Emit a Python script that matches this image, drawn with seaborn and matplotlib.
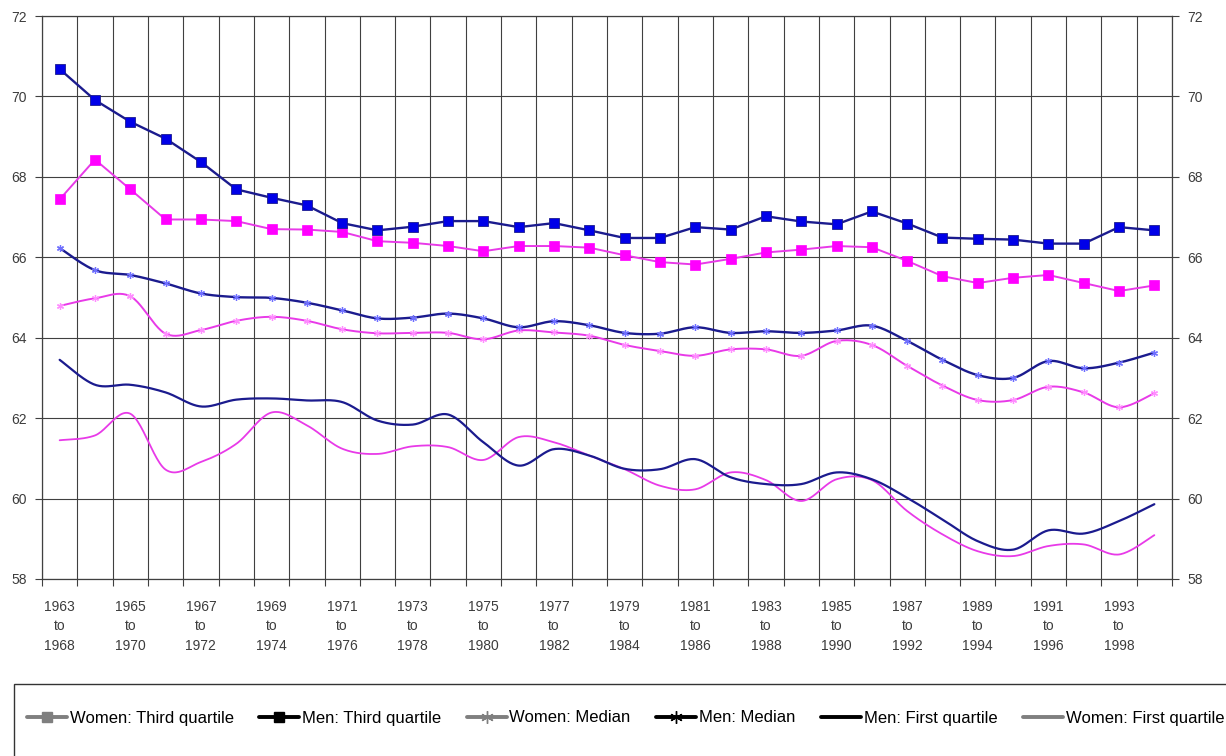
import numpy as np
import matplotlib
matplotlib.use("Agg")
import matplotlib.pyplot as plt
import seaborn as sns
from matplotlib.lines import Line2D
from matplotlib.patches import Rectangle
from matplotlib.ticker import FixedLocator, MultipleLocator

# Six-year windows: first year of each window
start_years = list(range(1963, 1995))
period_labels = [f"{y}\nto\n{y + 5}" for y in start_years]

men_q3 = [70.68, 69.91, 69.37, 68.95, 68.37, 67.69, 67.48, 67.29, 66.85, 66.67,
          66.76, 66.90, 66.90, 66.75, 66.85, 66.67, 66.48, 66.48, 66.75, 66.69,
          67.02, 66.89, 66.82, 67.14, 66.84, 66.49, 66.46, 66.44, 66.34, 66.34,
          66.75, 66.67]
women_q3 = [67.44, 68.43, 67.69, 66.94, 66.94, 66.90, 66.70, 66.69, 66.63, 66.40,
            66.36, 66.28, 66.15, 66.28, 66.28, 66.24, 66.05, 65.88, 65.82, 65.96,
            66.12, 66.19, 66.28, 66.25, 65.91, 65.53, 65.36, 65.49, 65.56, 65.36,
            65.16, 65.30]
men_median = [66.23, 65.68, 65.56, 65.35, 65.10, 65.01, 64.99, 64.87, 64.68, 64.48,
              64.50, 64.60, 64.48, 64.26, 64.41, 64.31, 64.12, 64.10, 64.26, 64.12,
              64.16, 64.12, 64.18, 64.30, 63.92, 63.45, 63.07, 63.00, 63.42, 63.24,
              63.38, 63.63]
women_median = [64.79, 64.98, 65.03, 64.10, 64.19, 64.42, 64.52, 64.42, 64.21, 64.11,
                64.12, 64.12, 63.96, 64.18, 64.13, 64.05, 63.82, 63.67, 63.55, 63.71,
                63.71, 63.55, 63.92, 63.82, 63.30, 62.81, 62.45, 62.45, 62.78, 62.64,
                62.27, 62.62]
men_q1 = [63.45, 62.83, 62.83, 62.64, 62.29, 62.46, 62.49, 62.44, 62.40, 61.94,
          61.84, 62.09, 61.40, 60.82, 61.23, 61.07, 60.74, 60.73, 60.98, 60.53,
          60.36, 60.36, 60.65, 60.48, 60.02, 59.48, 58.94, 58.73, 59.21, 59.13,
          59.44, 59.86]
women_q1 = [61.45, 61.57, 62.11, 60.72, 60.91, 61.36, 62.14, 61.82, 61.24, 61.11,
            61.30, 61.28, 60.96, 61.53, 61.40, 61.07, 60.73, 60.32, 60.23, 60.65,
            60.46, 59.94, 60.48, 60.46, 59.69, 59.11, 58.69, 58.57, 58.82, 58.86,
            58.61, 59.09]

legend_labels = ["Women: Third quartile", "Men: Third quartile", "Women: Median",
                 "Men: Median", "Men: First quartile", "Women: First quartile"]

MEN_LINE = "#1b1b8e"
MEN_MARK = "#0000e8"
MEN_STAR = "#6f6fff"
WOM_LINE = "#e83ae8"
WOM_MARK = "#ff00ff"
WOM_STAR = "#ff8cff"
GRID = "#404040"
TEXT = "#3c3c3c"


def smooth_curve(xs, ys, steps=24):
    """Cubic Bezier smoothing through every point (Catmull-Rom tangents)."""
    xs = np.asarray(xs, float)
    ys = np.asarray(ys, float)
    px = np.concatenate([[xs[0]], xs, [xs[-1]]])
    py = np.concatenate([[ys[0]], ys, [ys[-1]]])
    t = np.linspace(0.0, 1.0, steps, endpoint=False)
    b0, b1, b2, b3 = (1 - t) ** 3, 3 * t * (1 - t) ** 2, 3 * t ** 2 * (1 - t), t ** 3
    out_x, out_y = [], []
    for i in range(1, len(px) - 2):
        x0, x1, x2, x3 = px[i - 1:i + 3]
        y0, y1, y2, y3 = py[i - 1:i + 3]
        cx1, cy1 = x1 + (x2 - x0) / 6, y1 + (y2 - y0) / 6
        cx2, cy2 = x2 - (x3 - x1) / 6, y2 - (y3 - y1) / 6
        out_x.append(b0 * x1 + b1 * cx1 + b2 * cx2 + b3 * x2)
        out_y.append(b0 * y1 + b1 * cy1 + b2 * cy2 + b3 * y2)
    out_x.append([xs[-1]])
    out_y.append([ys[-1]])
    return np.concatenate(out_x), np.concatenate(out_y)


sns.set_theme(style="white")
plt.rcParams["font.family"] = ["Liberation Sans", "DejaVu Sans"]

W, H = 1226, 756
fig = plt.figure(figsize=(W / 100, H / 100), dpi=100)
ax = fig.add_axes([42 / W, 1 - 579 / H, (1172 - 42) / W, (579 - 16) / H])

idx = np.arange(len(start_years))

# Third quartiles: straight segments with square markers
sns.lineplot(x=idx, y=women_q3, ax=ax, color=WOM_LINE, linewidth=1.4,
             marker="s", markersize=7, markerfacecolor=WOM_MARK,
             markeredgecolor=WOM_MARK, markeredgewidth=0.5, zorder=4)
sns.lineplot(x=idx, y=men_q3, ax=ax, color=MEN_LINE, linewidth=1.7,
             marker="s", markersize=7.5, markerfacecolor=MEN_MARK,
             markeredgecolor=MEN_LINE, markeredgewidth=0.6, zorder=5)

# Medians and first quartiles: smoothed curves
for vals, col, lw in [(women_median, WOM_LINE, 1.4), (men_median, MEN_LINE, 1.7),
                      (women_q1, WOM_LINE, 1.3), (men_q1, MEN_LINE, 1.6)]:
    sx, sy = smooth_curve(idx, vals)
    sns.lineplot(x=sx, y=sy, ax=ax, color=col, linewidth=lw, sort=False,
                 estimator=None, zorder=3)

# Small asterisk markers on the medians
for vals, col in [(women_median, WOM_STAR), (men_median, MEN_STAR)]:
    sns.lineplot(x=idx, y=vals, ax=ax, linestyle="none", marker=(6, 2, 0),
                 markersize=5, markeredgecolor=col, markeredgewidth=0.9,
                 color=col, zorder=4)

# Axes, ticks and grid
ax.set_xlim(-0.5, len(start_years) - 0.5)
ax.set_ylim(58, 72)
ax.yaxis.set_major_locator(MultipleLocator(2))
ax.set_yticklabels([f"{v:.0f}" for v in ax.get_yticks()])
ax.xaxis.set_major_locator(FixedLocator(idx[::2]))
ax.set_xticklabels(period_labels[::2], linespacing=1.5)
ax.xaxis.set_minor_locator(FixedLocator(np.arange(-0.5, len(start_years), 1.0)))
ax.set_xlabel("")
ax.set_ylabel("")

ax.grid(True, which="minor", axis="x", color=GRID, linewidth=0.8)
ax.grid(True, which="major", axis="y", color=GRID, linewidth=0.8)
ax.grid(False, which="major", axis="x")
ax.set_axisbelow(True)

ax.tick_params(axis="x", which="major", length=0, pad=15, labelsize=10, labelcolor=TEXT)
ax.tick_params(axis="x", which="minor", length=5, width=0.8, color=GRID, bottom=True)
ax.tick_params(axis="y", which="major", length=5, width=0.8, color=GRID,
               left=True, right=True, labelleft=True, labelright=True,
               labelsize=10, labelcolor=TEXT, pad=6)

for side in ["left", "right", "bottom", "top"]:
    ax.spines[side].set_visible(True)
    ax.spines[side].set_color(GRID)
    ax.spines[side].set_linewidth(0.9)

# Legend box running off the bottom-right of the canvas
fig.add_artist(Rectangle((14 / W, -0.2), 1.2, (756 - 684) / H + 0.2,
                         transform=fig.transFigure, fill=False,
                         edgecolor="#333333", linewidth=1.0))

handles = [
    Line2D([], [], color="#7f7f7f", lw=2.8, marker="s", markersize=7),
    Line2D([], [], color="#000000", lw=2.8, marker="s", markersize=7),
    Line2D([], [], color="#7f7f7f", lw=2.8, marker=(6, 2, 0), markersize=9, mew=1),
    Line2D([], [], color="#000000", lw=2.8, marker=(6, 2, 0), markersize=9, mew=1),
    Line2D([], [], color="#000000", lw=2.8),
    Line2D([], [], color="#7f7f7f", lw=2.8),
]
fig.legend(handles, legend_labels, loc="center left",
           bbox_to_anchor=(27 / W, 1 - 718 / H), ncol=6, frameon=False,
           fontsize=12, handlelength=2.4, handletextpad=0.15, columnspacing=1.55,
           borderpad=0, borderaxespad=0, labelcolor="#000000")

fig.savefig("out.png", dpi=100)
